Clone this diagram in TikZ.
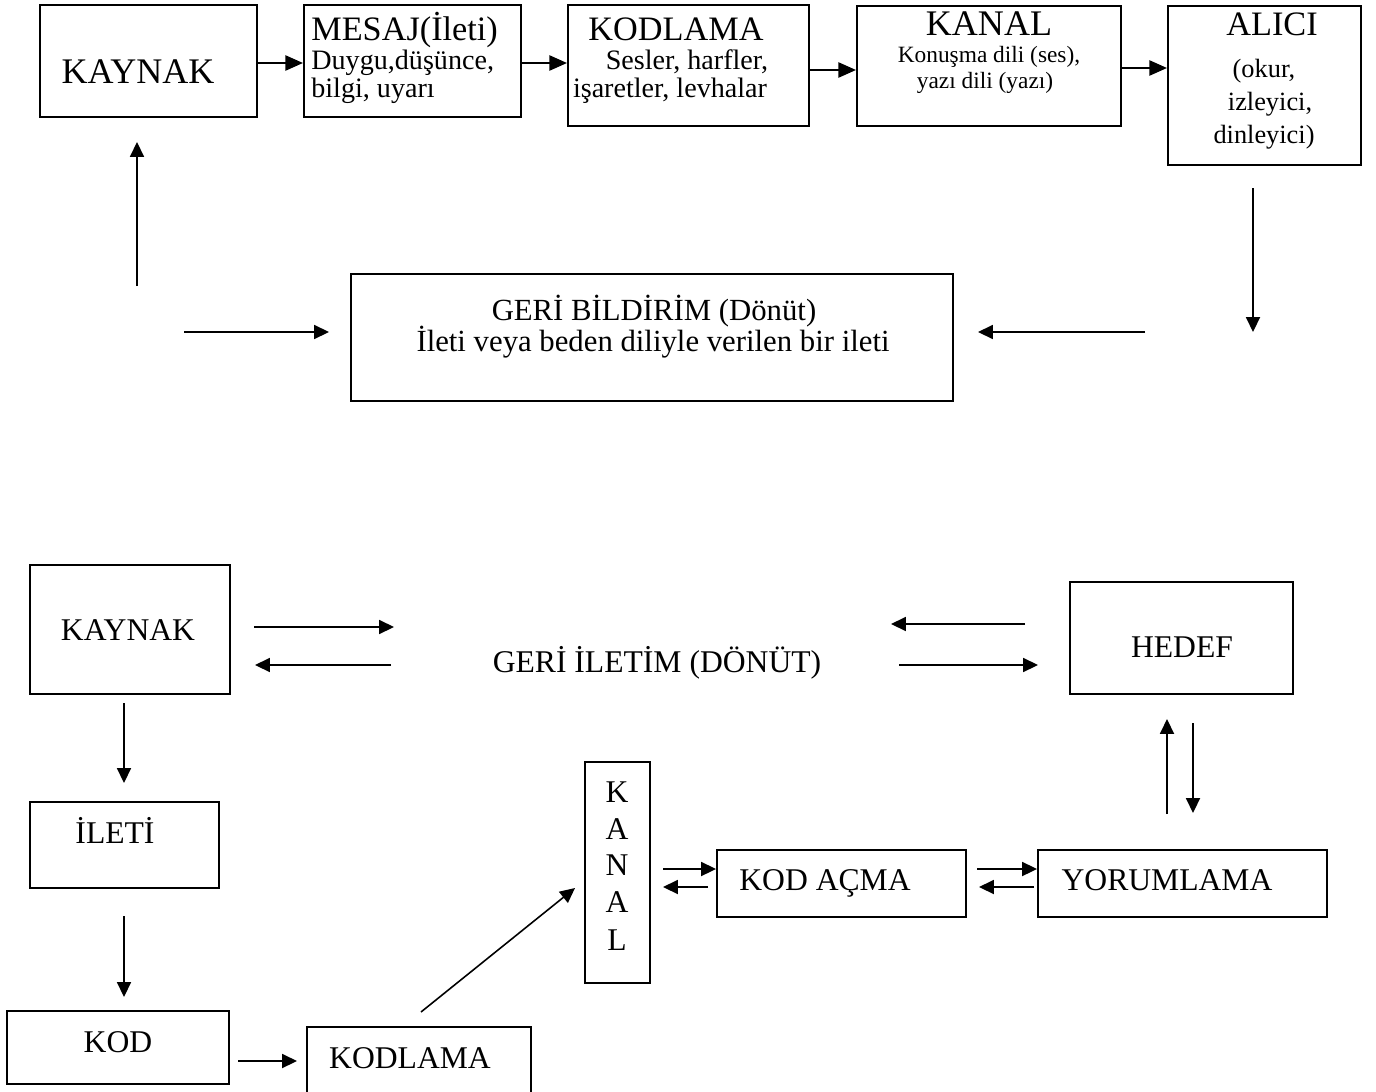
\documentclass[tikz,border=0pt]{standalone}
\usepackage{fontspec}
\setmainfont{Liberation Serif}
\usetikzlibrary{arrows.meta,fit}

\tikzset{
  box/.style={draw, line width=1.1pt, inner sep=0pt},
  arr/.style={-{Triangle[length=8.5pt,width=8pt]}, line width=0.9pt},
  arrtop/.style={-{Triangle[length=10pt,width=8.5pt]}, line width=1.4pt},
  title/.style={font=\fontsize{19.5}{24}\selectfont, anchor=base, inner sep=0pt},
  sub/.style={font=\fontsize{16}{20}\selectfont, anchor=base, inner sep=0pt},
  small/.style={font=\fontsize{13.3}{16}\selectfont, anchor=base, inner sep=0pt},
  lbl/.style={font=\fontsize{18}{22}\selectfont, anchor=base, inner sep=0pt},
}

\begin{document}
\begin{tikzpicture}[x=0.02cm, y=-0.02cm]
\useasboundingbox (0,0) rectangle (1376,1092);

% upper diagram
\node[box, fit={(40,5) (257,117)}] (kaynakA) {};
\node[box, fit={(304,5) (521,117)}] (mesaj) {};
\node[box, fit={(568,5) (809,126)}] (kodlamaA) {};
\node[box, fit={(857,6) (1121,126)}] (kanalA) {};
\node[box, fit={(1168,6) (1361,165)}] (alici) {};
\node[box, fit={(351,274) (953,401)}] (geri) {};

\node[title, font=\fontsize{20.5}{24}\selectfont] (kaynakAt) at (138,83) {KAYNAK};
\node[title, anchor=base west] (mesajt) at (311,40) {MESAJ(İleti)};
\node[sub, anchor=base west] (mesajs1) at (311,69) {Duygu,düşünce,};
\node[sub, anchor=base west] (mesajs2) at (311,97) {bilgi, uyarı};
\node[title] (kodlamaAt) at (676,40) {KODLAMA};
\node[sub] (kodlamas1) at (687,69) {Sesler, harfler,};
\node[sub] (kodlamas2) at (670,97) {işaretler, levhalar};
\node[title, font=\fontsize{20.5}{24}\selectfont] (kanalAt) at (989,35) {KANAL};
\node[small] (kanals1) at (989,62) {Konuşma dili (ses),};
\node[small] (kanals2) at (985,88) {yazı dili (yazı)};
\node[title] (alicit) at (1272,35) {ALICI};
\node[sub, font=\fontsize{15}{18}\selectfont] (alicis1) at (1264,77) {(okur,};
\node[sub, font=\fontsize{15}{18}\selectfont] (alicis2) at (1270,110) {izleyici,};
\node[sub, font=\fontsize{15}{18}\selectfont] (alicis3) at (1264,143) {dinleyici)};
\node[lbl, font=\fontsize{17.5}{21}\selectfont] (gerit1) at (654,320) {GERİ BİLDİRİM (Dönüt)};
\node[lbl, font=\fontsize{17.5}{21}\selectfont] (gerit2) at (653,351) {İleti veya beden diliyle verilen bir ileti};

\draw[arrtop] (kaynakA.east |- 0,63) -- (mesaj.west |- 0,63);
\draw[arrtop] (mesaj.east |- 0,63) -- (kodlamaA.west |- 0,63);
\draw[arrtop] (kodlamaA.east |- 0,70) -- (kanalA.west |- 0,70);
\draw[arrtop] (kanalA.east |- 0,68) -- (alici.west |- 0,68);

\coordinate (upA) at (137,286);
\coordinate (upB) at (137,142);
\coordinate (dnA) at (1253,188);
\coordinate (dnB) at (1253,332);
\coordinate (inL) at (184,332);
\coordinate (inLe) at (329,332);
\coordinate (inR) at (1145,332);
\coordinate (inRe) at (978,332);
\draw[arr] (upA) -- (upB);
\draw[arr] (dnA) -- (dnB);
\draw[arr] (inL) -- (inLe);
\draw[arr] (inR) -- (inRe);

% lower diagram
\node[box, fit={(30,565) (230,694)}] (kaynakB) {};
\node[box, fit={(1070,582) (1293,694)}] (hedef) {};
\node[box, fit={(30,802) (219,888)}] (ileti) {};
\node[box, fit={(7,1011) (229,1084)}] (kod) {};
\node[box, fit={(307,1027) (531,1100)}] (kodlamaB) {};
\node[box, fit={(585,762) (650,983)}] (kanalB) {};
\node[box, fit={(717,850) (966,917)}] (kodacma) {};
\node[box, fit={(1038,850) (1327,917)}] (yorum) {};

\node[lbl] (kaynakBt) at (128,640) {KAYNAK};
\node[lbl] (donut) at (657,672) {GERİ İLETİM (DÖNÜT)};
\node[lbl] (hedeft) at (1182,657) {HEDEF};
\node[lbl] (iletit) at (115,843) {İLETİ};
\node[lbl] (kodt) at (118,1052) {KOD};
\node[lbl] (kodlamaBt) at (410,1068) {KODLAMA};
\node[lbl] (kodacmat) at (825,890) {KOD AÇMA};
\node[lbl] (yorumt) at (1167,890) {YORUMLAMA};
\foreach \c/\y [count=\i] in {K/802,A/839,N/875,A/912,L/950}
  \node[lbl] (kanalB\i) at (617,\y) {\c};

\coordinate (kgA) at (254,627);
\coordinate (kgB) at (394,627);
\coordinate (gkA) at (391,665);
\coordinate (gkB) at (255,665);
\coordinate (hgA) at (1025,624);
\coordinate (hgB) at (891,624);
\coordinate (ghA) at (899,665);
\coordinate (ghB) at (1038,665);
\draw[arr] (kgA) -- (kgB);
\draw[arr] (gkA) -- (gkB);
\draw[arr] (hgA) -- (hgB);
\draw[arr] (ghA) -- (ghB);

\coordinate (kiA) at (124,703);
\coordinate (kiB) at (124,783);
\coordinate (ikA) at (124,916);
\coordinate (ikB) at (124,997);
\coordinate (kkA) at (238,1061);
\coordinate (kkB) at (297,1061);
\coordinate (diagA) at (421,1012);
\coordinate (diagB) at (575,888);
\draw[arr] (kiA) -- (kiB);
\draw[arr] (ikA) -- (ikB);
\draw[arr] (kkA) -- (kkB);
\draw[arr] (diagA) -- (diagB);

\coordinate (kaA) at (663,869);
\coordinate (akA) at (708,887);
\coordinate (akB) at (663,887);
\draw[arr] (kaA) -- (kodacma.west |- kaA);
\draw[arr] (akA) -- (akB);
\coordinate (ayA) at (977,869);
\coordinate (yaA) at (1034,887);
\coordinate (yaB) at (979,887);
\draw[arr] (ayA) -- (yorum.west |- ayA);
\draw[arr] (yaA) -- (yaB);

\coordinate (yhA) at (1167,814);
\coordinate (yhB) at (1167,719);
\coordinate (hyA) at (1193,723);
\coordinate (hyB) at (1193,813);
\draw[arr] (yhA) -- (yhB);
\draw[arr] (hyA) -- (hyB);

\end{tikzpicture}
\end{document}
